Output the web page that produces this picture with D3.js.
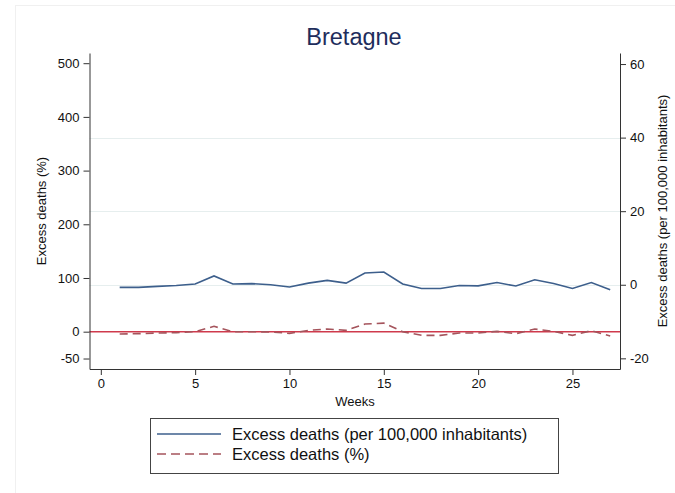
<!DOCTYPE html>
<html>
<head>
<meta charset="utf-8">
<script src="https://cdn.jsdelivr.net/npm/d3@7/dist/d3.min.js"></script>
<style>
  html, body { margin: 0; padding: 0; background: #fff; }
  svg { display: block; font-family: "Liberation Sans", Arial, Helvetica, sans-serif; }
</style>
</head>
<body>
<svg id="chart" width="675" height="493"></svg>
<script>
const title = "Bretagne";
const weeks = [1,2,3,4,5,6,7,8,9,10,11,12,13,14,15,16,17,18,19,20,21,22,23,24,25,26,27];
// Excess deaths per 100,000 inhabitants (right axis)
const per100k = [-0.7,-0.7,-0.45,-0.2,0.2,2.4,0.2,0.3,0,-0.6,0.45,1.2,0.45,3.2,3.45,0.2,-1.0,-1.0,-0.2,-0.3,0.6,-0.35,1.35,0.35,-1.0,0.6,-1.35];
// Excess deaths (%) (left axis)
const pct = [-4.3,-3.7,-2.5,-1.9,0,10,0,0,-0.6,-3.1,2.5,5,2.5,14.3,16,0,-6.8,-6.8,-2.5,-2.5,0.6,-3.7,5,0.6,-6.8,1.9,-8];
const xTicks = [0,5,10,15,20,25];
const yLeftTicks = [-50,0,100,200,300,400,500];
const yRightTicks = [-20,0,20,40,60];
const gridTicks = [0,20,40];
const legendLabels = ["Excess deaths (per 100,000 inhabitants)", "Excess deaths (%)"];

const svg = d3.select("#chart");
const L = 89.5, R = 620, T = 53, B = 369;

const x = d3.scaleLinear().domain([-0.6, 27.52]).range([L, R]);
const yL = d3.scaleLinear().domain([-69.5, 519]).range([B, T]);
const yR = d3.scaleLinear().domain([-22.9, 63.0]).range([B, T]);

// faint outer frame
svg.append("line").attr("x1",15).attr("x2",675).attr("y1",5.5).attr("y2",5.5).attr("stroke","#f0f0f0");
svg.append("line").attr("x1",15.5).attr("x2",15.5).attr("y1",5).attr("y2",493).attr("stroke","#f0f0f0");

// gridlines (right axis)
svg.append("g").selectAll("line").data(gridTicks).join("line")
  .attr("x1", L).attr("x2", R)
  .attr("y1", d => Math.round(yR(d)) + 0.5).attr("y2", d => Math.round(yR(d)) + 0.5)
  .attr("stroke", "#e6eeee").attr("stroke-width", 1);

// zero reference line (left axis)
svg.append("line").attr("x1", L).attr("x2", R)
  .attr("y1", yL(0)).attr("y2", yL(0))
  .attr("stroke", "#cf3a4c").attr("stroke-width", 1.4);

// series
svg.append("path").datum(weeks.map((w,i)=>[w,pct[i]]))
  .attr("d", d3.line().x(d=>x(d[0])).y(d=>yL(d[1])))
  .attr("fill","none").attr("stroke","#a5545c").attr("stroke-width",1.6)
  .attr("stroke-dasharray","8,5");
svg.append("path").datum(weeks.map((w,i)=>[w,per100k[i]]))
  .attr("d", d3.line().x(d=>x(d[0])).y(d=>yR(d[1])))
  .attr("fill","none").attr("stroke","#3d5f8c").attr("stroke-width",1.6);

// axes
const axisColor = "#333";
const fmt = d => String(d);
function styleAxis(g) {
  g.selectAll(".domain").attr("stroke", axisColor).attr("stroke-width", 1);
  g.selectAll(".tick line").attr("stroke", axisColor);
  g.selectAll(".tick text").attr("fill", "#111").style("font-size", "13px")
    .style("font-family", "'Liberation Sans', Arial, Helvetica, sans-serif");
}
const gL = svg.append("g").attr("transform", `translate(${L},0)`)
  .call(d3.axisLeft(yL).tickValues(yLeftTicks).tickFormat(fmt).tickSize(6).tickPadding(4).tickSizeOuter(0));
styleAxis(gL);
const gR = svg.append("g").attr("transform", `translate(${R},0)`)
  .call(d3.axisRight(yR).tickValues(yRightTicks).tickFormat(fmt).tickSize(6).tickPadding(4).tickSizeOuter(0));
styleAxis(gR);
const gX = svg.append("g").attr("transform", `translate(0,${B})`)
  .call(d3.axisBottom(x).tickValues(xTicks).tickFormat(fmt).tickSize(6).tickPadding(4).tickSizeOuter(0));
styleAxis(gX);

// titles
svg.append("text").attr("x", 354).attr("y", 45).attr("text-anchor","middle")
  .style("font-size","23.5px").attr("fill","#1e2d5c").text(title);
svg.append("text").attr("x", 355).attr("y", 406).attr("text-anchor","middle")
  .style("font-size","13px").attr("fill","#111").text("Weeks");
svg.append("text").attr("transform","translate(46,211) rotate(-90)").attr("text-anchor","middle")
  .style("font-size","13px").attr("fill","#111").text("Excess deaths (%)");
svg.append("text").attr("transform","translate(667,211) rotate(-90)").attr("text-anchor","middle")
  .style("font-size","13px").attr("fill","#111").text("Excess deaths (per 100,000 inhabitants)");

// legend
const lg = svg.append("g");
lg.append("rect").attr("x",150.5).attr("y",418.5).attr("width",408).attr("height",55)
  .attr("fill","#fff").attr("stroke","#444").attr("stroke-width",1);
const styles = [{c:"#3d5f8c", dash:null}, {c:"#a5545c", dash:"9,5"}];
legendLabels.forEach((t,i) => {
  const yy = 434 + i*20;
  lg.append("line").attr("x1",157).attr("x2",221).attr("y1",yy).attr("y2",yy)
    .attr("stroke",styles[i].c).attr("stroke-width",1.6)
    .attr("stroke-dasharray", styles[i].dash);
  lg.append("text").attr("x",232).attr("y",yy+5.5).style("font-size","16.5px")
    .attr("fill","#111").text(t);
});
</script>
</body>
</html>
